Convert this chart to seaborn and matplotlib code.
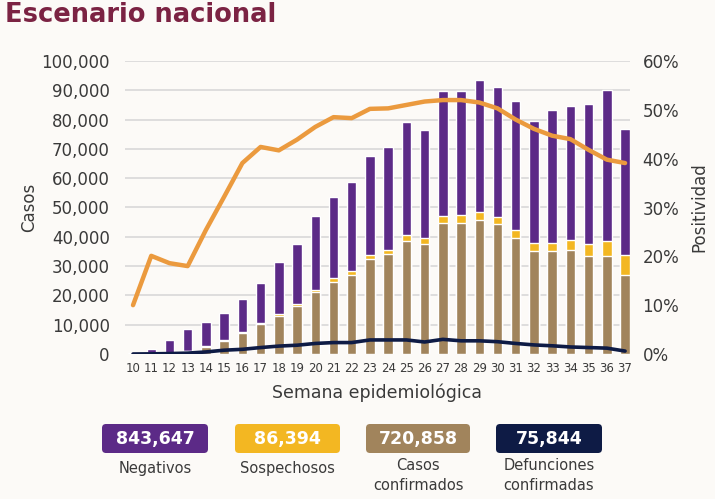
import numpy as np
import pandas as pd
import matplotlib
matplotlib.use('Agg')
import matplotlib.pyplot as plt
from matplotlib.patches import FancyBboxPatch
from matplotlib.ticker import FuncFormatter
import seaborn as sns

# Data
semanas = list(range(10, 38))
confirmados = [10, 200, 300, 1000, 2500, 4600, 7300, 10200, 13000, 16300, 21000, 24600, 26800, 32300,
               34000, 38700, 37600, 44600, 44600, 45800, 44400, 39600, 35200, 35200, 35500, 33600, 33300, 27000]
sospechosos = [0, 50, 100, 100, 200, 200, 300, 300, 500, 700, 900, 1300, 1400, 1600,
               1500, 1800, 1900, 2600, 2800, 2800, 2300, 2600, 2600, 2800, 3300, 4000, 5200, 6800]
negativos = [200, 1600, 4400, 7500, 8200, 9300, 11100, 13600, 17800, 20600, 25300, 27600, 30400, 33600,
             35300, 38600, 36800, 42700, 42500, 44800, 44300, 44300, 41700, 45300, 45900, 47600, 51700, 42900]
defunciones = [0, 50, 150, 300, 700, 1300, 1600, 2200, 2700, 3000, 3600, 3900, 3900, 4800,
               4800, 4800, 4100, 5000, 4500, 4500, 4200, 3600, 3100, 2800, 2400, 2200, 2000, 1000]
positividad = [10.0, 20.1, 18.6, 18.0, 25.4, 32.2, 39.1, 42.4, 41.7, 43.9, 46.5, 48.5, 48.3, 50.2,
               50.3, 51.0, 51.7, 52.0, 52.0, 51.5, 50.3, 48.0, 46.1, 44.7, 44.0, 41.8, 39.8, 39.1]

totales_labels = ['843,647', '86,394', '720,858', '75,844']
totales_names = ['Negativos', 'Sospechosos', 'Casos\nconfirmados', 'Defunciones\nconfirmadas']

c_neg = '#5c2a87'
c_sos = '#f3b722'
c_conf = '#a1845c'
c_def = '#0e1b45'
c_pos = '#eb9a3e'
c_title = '#7b2343'
c_text = '#3a3a3a'

df = pd.DataFrame({'semana': semanas, 'conf': confirmados, 'sos': sospechosos,
                   'neg': negativos, 'def': defunciones, 'pos': positividad})
df['conf_sos'] = df['conf'] + df['sos']
df['total'] = df['conf_sos'] + df['neg']

sns.set_style('white')
plt.rcParams['font.family'] = ['DejaVu Sans']

W, H = 715, 499
fig = plt.figure(figsize=(W / 100, H / 100), dpi=100)
fig.patch.set_facecolor('#fcfaf7')

ax = fig.add_axes([125 / W, 1 - 354 / H, (630 - 125) / W, (354 - 61) / H])
ax.set_facecolor('none')
for y in range(10000, 100001, 10000):
    ax.axhline(y, color='#d8d8d8', lw=1.2, zorder=0)

bw = 0.52
sns.barplot(data=df, x='semana', y='total', color=c_neg, width=bw, native_scale=True,
            saturation=1, ax=ax, zorder=2)
sns.barplot(data=df, x='semana', y='conf_sos', color=c_sos, width=bw, native_scale=True,
            saturation=1, ax=ax, zorder=2)
sns.barplot(data=df, x='semana', y='conf', color=c_conf, width=bw, native_scale=True,
            saturation=1, ax=ax, zorder=2)
sns.lineplot(data=df, x='semana', y='def', color=c_def, lw=2.6, ax=ax, zorder=4)

ax.set_xlim(9.56, 37.27)
ax.set_ylim(0, 100000)
ax.set_xticks(semanas)
ax.set_xticklabels([str(s) for s in semanas], fontsize=8.5, color=c_text)
ax.set_yticks(range(0, 100001, 10000))
ax.yaxis.set_major_formatter(FuncFormatter(lambda v, p: f'{int(v):,}'))
ax.tick_params(axis='y', labelsize=12, colors=c_text, length=0, pad=11)
ax.tick_params(axis='x', length=0, pad=6)
ax.set_xlabel('Semana epidemiológica', fontsize=12.5, color=c_text, labelpad=6)
ax.set_ylabel('Casos', fontsize=12, color=c_text, labelpad=2)
for s in ax.spines.values():
    s.set_visible(False)

ax2 = ax.twinx()
sns.lineplot(data=df, x='semana', y='pos', color=c_pos, lw=3.2, ax=ax2, zorder=5)
ax2.set_ylim(0, 60)
ax2.set_yticks(range(0, 61, 10))
ax2.yaxis.set_major_formatter(FuncFormatter(lambda v, p: f'{int(v)}%'))
ax2.tick_params(axis='y', labelsize=12, colors=c_text, length=0, pad=9)
ax2.set_ylabel('Positividad', fontsize=12, color=c_text, labelpad=8)
for s in ax2.spines.values():
    s.set_visible(False)
ax.set_zorder(1)
ax2.set_zorder(2)
ax2.patch.set_visible(False)

fig.text(5 / W, 1 - 15 / H, 'Escenario nacional', fontsize=18.5, fontweight='bold',
         color=c_title, ha='left', va='center')

# summary boxes along the bottom
ov = fig.add_axes([0, 0, 1, 1])
ov.set_xlim(0, W)
ov.set_ylim(H, 0)
ov.axis('off')
ov.patch.set_visible(False)
boxes = [(102, 208), (235, 340), (366, 470), (496, 602)]
box_colors = [c_neg, c_sos, c_conf, c_def]
for (x0, x1), col, num, name in zip(boxes, box_colors, totales_labels, totales_names):
    ov.add_patch(FancyBboxPatch((x0 + 3, 427), x1 - x0 - 6, 23,
                                boxstyle='round,pad=3,rounding_size=4', fc=col, ec='none'))
    cx = (x0 + x1) / 2
    ov.text(cx, 439, num, fontsize=12.5, fontweight='bold', color='white', ha='center', va='center')
    if '\n' in name:
        l1, l2 = name.split('\n')
        ov.text(cx, 466, l1, fontsize=10.5, color=c_text, ha='center', va='center')
        ov.text(cx, 485, l2, fontsize=10.5, color=c_text, ha='center', va='center')
    else:
        ov.text(cx, 468, name, fontsize=10.5, color=c_text, ha='center', va='center')

fig.savefig('out.png', dpi=100, facecolor=fig.get_facecolor())
